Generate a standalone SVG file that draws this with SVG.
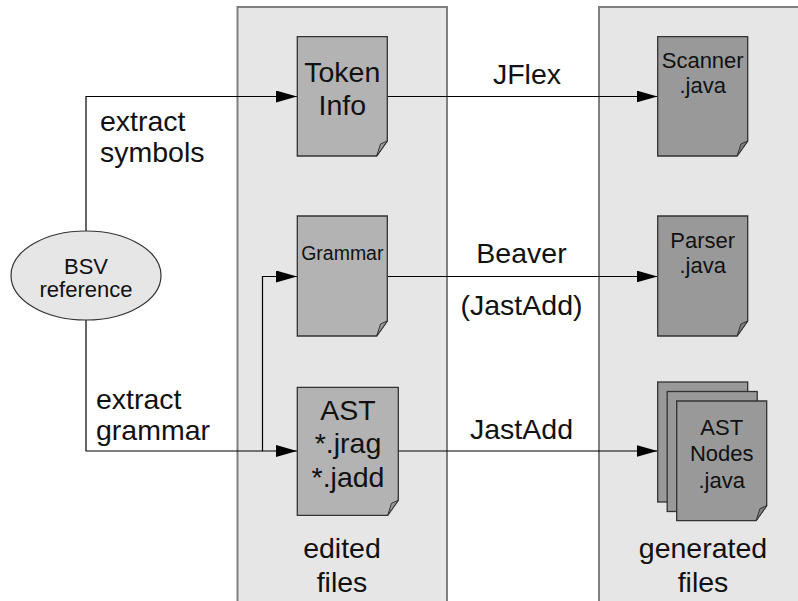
<svg xmlns="http://www.w3.org/2000/svg" width="798" height="601" viewBox="0 0 798 601">
<style>
text{font-family:"Liberation Sans",Arial,sans-serif;fill:#111;}
.big{font-size:28.5px;}
.mid{font-size:22px;text-anchor:middle;}
.c{text-anchor:middle;}
.panel{fill:#e6e6e6;stroke:#808080;stroke-width:2;}
.doc1{fill:#b3b3b3;stroke:#333;stroke-width:1.3;}
.doc2{fill:#999999;stroke:#333;stroke-width:1.3;}
.fold{fill:#999;stroke:#333;stroke-width:1;}
.fold2{fill:#808080;stroke:#333;stroke-width:1;}
.ln{fill:none;stroke:#000;stroke-width:1.2;}
</style>
<defs>
<marker id="ah" viewBox="0 0 21 12" refX="21" refY="6" markerWidth="21" markerHeight="12" markerUnits="userSpaceOnUse" orient="auto">
<path d="M0,0 L21,6 L0,12 Z" fill="#000"/>
</marker>
</defs>
<rect width="798" height="601" fill="#fff"/>
<g id="panel-edited">
<rect class="panel" x="237.5" y="7" width="209.5" height="600"/>
<text class="big c" x="342" y="558">edited</text>
<text class="big c" x="342" y="592">files</text>
</g>
<g id="panel-generated">
<rect class="panel" x="599" y="7" width="210" height="600"/>
<text class="big c" x="703" y="558">generated</text>
<text class="big c" x="703" y="592">files</text>
</g>
<g id="connectors">
<path class="ln" d="M86,231 V96.5 H297" marker-end="url(#ah)"/>
<path class="ln" d="M86,320 V451 H297" marker-end="url(#ah)"/>
<path class="ln" d="M262.5,451 V276.5 H297" marker-end="url(#ah)"/>
<path class="ln" d="M387.3,96.5 H657.5" marker-end="url(#ah)"/>
<path class="ln" d="M387.3,276.5 H657.5" marker-end="url(#ah)"/>
<path class="ln" d="M398.3,451 H657.5" marker-end="url(#ah)"/>
<text class="big" x="100" y="131">extract</text>
<text class="big" x="100" y="161.5">symbols</text>
<text class="big" x="96" y="408.5">extract</text>
<text class="big" x="96" y="440">grammar</text>
<text class="big c" x="527" y="83.5">JFlex</text>
<text class="big c" x="521.5" y="263">Beaver</text>
<text class="big c" x="521.5" y="315">(JastAdd)</text>
<text class="big c" x="521.5" y="438.5">JastAdd</text>
</g>
<g id="bsv">
<ellipse cx="86" cy="275.5" rx="75" ry="44.5" fill="#e6e6e6" stroke="#333" stroke-width="1.2"/>
<text class="mid" x="86" y="273.5">BSV</text>
<text class="mid" x="86" y="297">reference</text>
</g>
<g id="tokeninfo">
<path class="doc1" d="M297.3,36.7 H387.3 V141 L376.7,156 H297.3 Z"/>
<path class="fold" d="M387.3,141 L380.5,144 L376.7,156 Z"/>
<text class="big c" x="342.3" y="81.7">Token</text>
<text class="big c" x="342.3" y="115">Info</text>
</g>
<g id="scanner">
<path class="doc2" d="M657.7,36.7 H747.7 V141 L737.1,156 H657.7 Z"/>
<path class="fold2" d="M747.7,141 L740.9,144 L737.1,156 Z"/>
<text class="mid" x="702.7" y="68.3">Scanner</text>
<text class="mid" x="702.7" y="93.3">.java</text>
</g>
<g id="grammar">
<path class="doc1" d="M297.3,216 H387.3 V321 L376.7,336 H297.3 Z"/>
<path class="fold" d="M387.3,321 L380.5,324 L376.7,336 Z"/>
<text x="342.3" y="260" style="font-size:19.5px;text-anchor:middle">Grammar</text>
</g>
<g id="parser">
<path class="doc2" d="M657.7,216 H747.7 V321 L737.1,336 H657.7 Z"/>
<path class="fold2" d="M747.7,321 L740.9,324 L737.1,336 Z"/>
<text class="mid" x="702.7" y="248.3">Parser</text>
<text class="mid" x="702.7" y="273.3">.java</text>
</g>
<g id="ast">
<path class="doc1" d="M297.3,387.3 H398.3 V500.3 L387.7,515.3 H297.3 Z"/>
<path class="fold" d="M398.3,500.3 L391.5,503.3 L387.7,515.3 Z"/>
<text class="big c" x="348" y="420">AST</text>
<text class="big c" x="348" y="452.5">*.jrag</text>
<text class="big c" x="348" y="487">*.jadd</text>
</g>
<g id="astnodes">
<rect class="doc2" x="657.7" y="382" width="90" height="120"/>
<rect class="doc2" x="667.2" y="391.5" width="90" height="120"/>
<path class="doc2" d="M676.7,401 H766.7 V505.7 L756.1,520.7 H676.7 Z"/>
<path class="fold2" d="M766.7,505.7 L759.9,508.7 L756.1,520.7 Z"/>
<text class="mid" x="721.7" y="435">AST</text>
<text class="mid" x="721.7" y="461">Nodes</text>
<text class="mid" x="721.7" y="487.5">.java</text>
</g>
</svg>
